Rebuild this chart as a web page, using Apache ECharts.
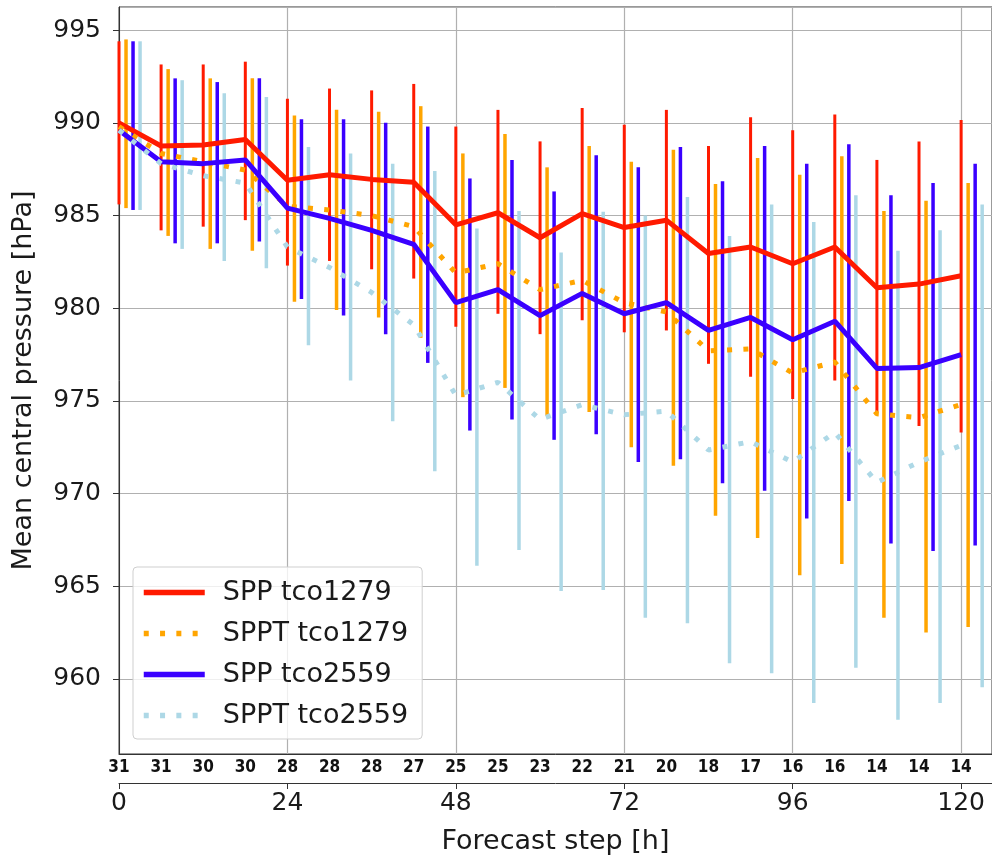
<!DOCTYPE html>
<html>
<head>
<meta charset="utf-8">
<script src="https://cdn.jsdelivr.net/npm/echarts@6.0.0/dist/echarts.min.js"></script>
<style>
  body { margin: 0; background: #fff; }
  #main { width: 992px; height: 861px; }
</style>
</head>
<body>
<div id="main"></div>
<script>
// forecast steps [h] and number of cases at each step
var steps = [0, 6, 12, 18, 24, 30, 36, 42, 48, 54, 60, 66, 72, 78, 84, 90, 96, 102, 108, 114, 120];
var counts = [31, 31, 30, 30, 28, 28, 28, 27, 25, 25, 23, 22, 21, 20, 18, 17, 16, 16, 14, 14, 14];

// mean central pressure [hPa]
var spp1279 = [990.0, 988.75, 988.8, 989.1, 986.9, 987.2, 986.95, 986.8, 984.5, 985.15, 983.8, 985.1, 984.35, 984.75, 982.95, 983.3, 982.4, 983.3, 981.1, 981.3, 981.75];
var sppt1279 = [989.8, 988.35, 987.9, 987.45, 985.5, 985.3, 985.0, 984.4, 981.9, 982.4, 981.0, 981.5, 980.3, 979.8, 977.7, 977.8, 976.5, 977.1, 974.3, 974.1, 974.8];
var spp2559 = [989.6, 987.9, 987.8, 988.0, 985.4, 984.85, 984.2, 983.45, 980.3, 981.0, 979.6, 980.8, 979.7, 980.3, 978.8, 979.5, 978.3, 979.3, 976.75, 976.8, 977.5];
var sppt2559 = [989.6, 987.8, 987.15, 986.75, 983.3, 982.2, 980.85, 979.1, 975.3, 976.0, 974.0, 974.8, 974.25, 974.45, 972.35, 972.8, 971.7, 973.3, 970.6, 971.7, 972.6];

// spread (min / max) at each step
var spp1279Lo = [985.6, 984.2, 984.4, 984.75, 982.3, 982.55, 982.1, 981.6, 979.0, 979.7, 978.6, 979.35, 978.7, 978.8, 977.0, 976.3, 975.1, 976.1, 974.4, 973.65, 973.3];
var spp1279Hi = [994.4, 993.15, 993.15, 993.3, 991.3, 991.85, 991.75, 992.1, 989.8, 990.7, 989.0, 990.8, 989.9, 990.7, 988.75, 990.3, 989.6, 990.45, 988.0, 989.0, 990.15];
var sppt1279Lo = [985.4, 983.9, 983.2, 983.1, 980.35, 979.9, 979.5, 978.4, 975.2, 975.7, 974.2, 974.4, 972.5, 971.5, 968.8, 967.6, 965.6, 966.2, 963.3, 962.5, 962.8];
var sppt1279Hi = [994.5, 992.9, 992.4, 992.4, 990.4, 990.7, 990.6, 990.9, 988.35, 989.4, 987.6, 988.75, 987.9, 988.55, 986.7, 988.1, 987.2, 988.2, 985.25, 985.8, 986.75];
var spp2559Lo = [985.3, 983.5, 983.5, 983.6, 980.5, 979.6, 978.6, 977.05, 973.4, 974.0, 972.9, 973.2, 971.7, 971.85, 970.55, 970.15, 968.65, 969.6, 967.3, 966.9, 967.2];
var spp2559Hi = [994.4, 992.4, 992.2, 992.4, 990.2, 990.2, 990.0, 989.8, 987.0, 988.0, 986.3, 988.25, 987.6, 988.7, 986.85, 988.75, 987.8, 988.85, 986.1, 986.75, 987.8];
var sppt2559Lo = [985.3, 983.2, 982.55, 982.15, 978.0, 976.1, 973.9, 971.2, 966.1, 966.95, 964.75, 964.8, 963.3, 963.0, 960.85, 960.3, 958.7, 960.6, 957.8, 958.7, 959.55];
var sppt2559Hi = [994.4, 992.3, 991.6, 991.4, 988.7, 988.35, 987.8, 987.4, 984.3, 985.25, 983.0, 985.2, 985.0, 986.0, 983.9, 985.6, 984.65, 986.1, 983.1, 984.2, 985.6];

var names = ['SPP tco1279', 'SPPT tco1279', 'SPP tco2559', 'SPPT tco2559'];

var chart = echarts.init(document.getElementById('main'));

var font = 'DejaVu Sans';
var dark = '#1a1a1a';

function pairs(ys) {
  return steps.map(function (s, i) { return [s, ys[i]]; });
}

function bars(lo, hi) {
  return steps.map(function (s, i) { return [s, lo[i], hi[i]]; });
}

// vertical spread bar, shifted right by `shift` hours so the four don't overlap
function barSeries(name, lo, hi, color, shift, width) {
  return {
    type: 'custom',
    name: name + ' range',
    xAxisIndex: 0,
    yAxisIndex: 0,
    silent: true,
    data: bars(lo, hi),
    encode: { x: 0, y: [1, 2] },
    renderItem: function (params, api) {
      var x = api.value(0) + shift;
      var a = api.coord([x, api.value(1)]);
      var b = api.coord([x, api.value(2)]);
      return {
        type: 'line',
        shape: { x1: a[0], y1: a[1], x2: b[0], y2: b[1] },
        style: { stroke: color, lineWidth: width }
      };
    }
  };
}

function lineSeries(name, ys, color, dotted) {
  return {
    type: 'line',
    name: name,
    xAxisIndex: 0,
    yAxisIndex: 0,
    data: pairs(ys),
    symbol: 'none',
    silent: true,
    color: color,
    lineStyle: {
      color: color,
      width: 5,
      type: dotted ? [5, 11.3] : 'solid',
      cap: 'butt'
    }
  };
}

var red = '#ff1a00', orange = '#ffa500', blue = '#3a00ff', light = '#add8e6';

var option = {
  animation: false,
  backgroundColor: '#fff',
  grid: {
    left: 119, right: 0, top: 7, bottom: 107,
    show: true, borderColor: '#333', borderWidth: 1, backgroundColor: 'transparent'
  },
  legend: {
    data: names,
    orient: 'vertical',
    left: 133,
    top: 567,
    itemWidth: 61,
    itemHeight: 14,
    itemGap: 14,
    padding: [12, 14, 10, 8],
    backgroundColor: 'rgba(255,255,255,0.8)',
    borderColor: '#cfcfcf',
    borderWidth: 1,
    borderRadius: 4,
    selectedMode: false,
    itemStyle: { opacity: 0 },
    lineStyle: { width: 5.5 },
    textStyle: { fontFamily: font, fontSize: 27, color: dark, padding: [0, 0, 0, 13] }
  },
  xAxis: [{
    type: 'value',
    position: 'bottom',
    min: 0, max: 124.4, interval: 6,
    axisLine: { show: true, lineStyle: { color: '#333', width: 1 } },
    axisTick: { show: false },
    splitLine: { show: false },
    axisLabel: {
      margin: 5,
      showMaxLabel: false,
      fontFamily: 'DejaVu Sans Condensed',
      fontWeight: 'bold',
      fontSize: 17,
      color: '#111',
      formatter: function (v) {
        var k = Math.round(v / 6);
        return (Math.abs(v - k * 6) < 1e-6 && counts[k] !== undefined) ? String(counts[k]) : '';
      }
    }
  }, {
    type: 'value',
    position: 'bottom',
    offset: 29,
    min: 0, max: 124.4, interval: 24,
    axisLine: { show: true, lineStyle: { color: '#333', width: 1 } },
    axisTick: { show: true, length: 6, lineStyle: { color: '#333' } },
    splitLine: { show: true, lineStyle: { color: '#b0b0b0', width: 1.2 } },
    axisLabel: { margin: 8, showMaxLabel: false, fontFamily: font, fontSize: 25, color: dark },
    name: 'Forecast step [h]',
    nameLocation: 'middle',
    nameGap: 45,
    nameTextStyle: { fontFamily: font, fontSize: 27, color: dark }
  }],
  yAxis: [{
    type: 'value',
    min: 955.95, max: 996.25,
    minInterval: 5, maxInterval: 5, splitNumber: 8,
    axisLine: { show: true, lineStyle: { color: '#333', width: 1 } },
    axisTick: { show: true, length: 6, lineStyle: { color: '#333' } },
    splitLine: { show: true, lineStyle: { color: '#b0b0b0', width: 1.2 } },
    axisLabel: { margin: 18, showMinLabel: false, showMaxLabel: false, fontFamily: font, fontSize: 25, color: dark },
    name: 'Mean central pressure [hPa]',
    nameLocation: 'middle',
    nameGap: 82,
    nameTextStyle: { fontFamily: font, fontSize: 27, color: dark }
  }],
  series: [
    barSeries(names[0], spp1279Lo, spp1279Hi, red, 0, 3),
    barSeries(names[1], sppt1279Lo, sppt1279Hi, orange, 1, 3.5),
    barSeries(names[2], spp2559Lo, spp2559Hi, blue, 2, 3.5),
    barSeries(names[3], sppt2559Lo, sppt2559Hi, light, 3, 3.5),
    lineSeries(names[0], spp1279, red, false),
    lineSeries(names[1], sppt1279, orange, true),
    lineSeries(names[2], spp2559, blue, false),
    lineSeries(names[3], sppt2559, light, true)
  ]
};

chart.setOption(option);
</script>
</body>
</html>
